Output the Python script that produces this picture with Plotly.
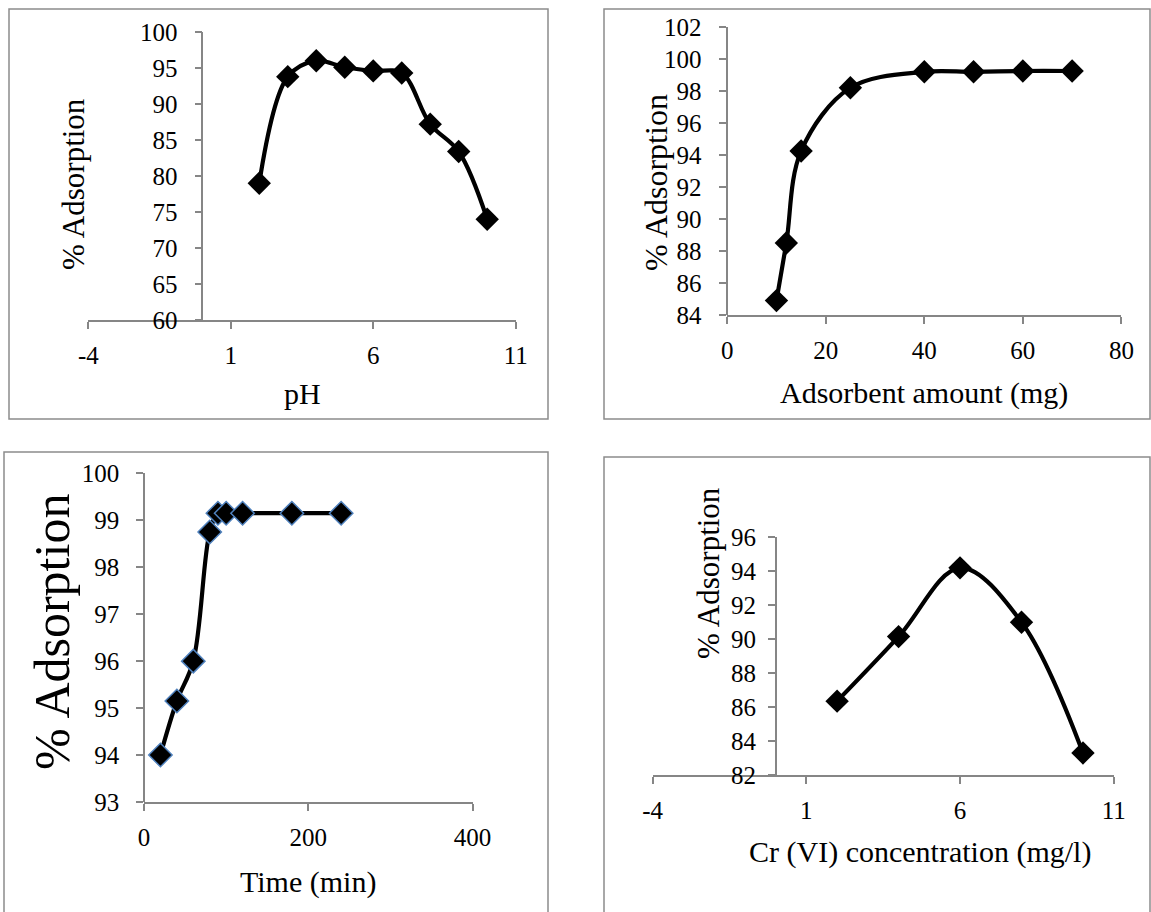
import plotly.graph_objects as go

W, H = 1151, 912

# ---------------- data ----------------
ph_x = [2, 3, 4, 5, 6, 7, 8, 9, 10]
ph_y = [79.0, 93.8, 96.0, 95.1, 94.6, 94.3, 87.2, 83.4, 74.0]

dose_x = [10, 12, 15, 25, 40, 50, 60, 70]
dose_y = [84.9, 88.5, 94.25, 98.2, 99.2, 99.2, 99.25, 99.25]

time_x = [20, 40, 60, 80, 90, 100, 120, 180, 240]
time_y = [94.0, 95.15, 96.0, 98.75, 99.15, 99.15, 99.15, 99.15, 99.15]

conc_x = [2, 4, 6, 8, 10]
conc_y = [86.35, 90.15, 94.2, 91.0, 83.3]

ph_xticks = [-4, 1, 6, 11]
ph_yticks = [60, 65, 70, 75, 80, 85, 90, 95, 100]
dose_xticks = [0, 20, 40, 60, 80]
dose_yticks = [84, 86, 88, 90, 92, 94, 96, 98, 100, 102]
time_xticks = [0, 200, 400]
time_yticks = [93, 94, 95, 96, 97, 98, 99, 100]
conc_xticks = [-4, 1, 6, 11]
conc_yticks = [82, 84, 86, 88, 90, 92, 94, 96]

titles_y = "% Adsorption"
title_ph = "pH"
title_dose = "Adsorbent amount (mg)"
title_time = "Time (min)"
title_conc = "Cr (VI) concentration (mg/l)"

# ---------------- helpers ----------------
def fx(px):
    return px / W

def fy(py):
    return 1 - py / H

FONT = "Liberation Serif, Times New Roman, serif"
AX = "#868686"

fig = go.Figure()

def add_panel(i, xs, ys, xr, yr, xpx, ypx, xt, yt, marker_line=None, ystand=12):
    sx = "" if i == 1 else str(i)
    xa = "x" + sx
    ya = "y" + sx
    mline = marker_line or dict(width=0)
    fig.add_trace(go.Scatter(
        x=xs, y=ys, xaxis=xa, yaxis=ya, mode="lines+markers",
        line=dict(color="black", width=4.2, shape="spline", smoothing=1.0),
        marker=dict(symbol="diamond", size=18, color="black", line=mline),
        showlegend=False, cliponaxis=False,
    ))
    x0px = xpx[0] + (0 - xr[0]) / (xr[1] - xr[0]) * (xpx[1] - xpx[0])
    xaxis = dict(
        domain=[fx(xpx[0]), fx(xpx[1])], range=xr, anchor=ya, automargin=False,
        showline=True, linecolor=AX, linewidth=1.5, showgrid=False,
        zeroline=False, ticks="outside", ticklen=7, tickcolor=AX, tickwidth=1.5,
        tickmode="array", tickvals=xt, ticktext=[str(v) for v in xt],
        tickfont=dict(family=FONT, size=25, color="black"),
        ticklabelstandoff=5,
    )
    yaxis = dict(
        domain=[fy(ypx[1]), fy(ypx[0])], range=yr, anchor="free",
        position=fx(x0px), automargin=False,
        showline=True, linecolor=AX, linewidth=1.5, showgrid=False,
        zeroline=False, ticks="outside", ticklen=7, tickcolor=AX, tickwidth=1.5,
        tickmode="array", tickvals=yt, ticktext=[str(v) for v in yt],
        tickfont=dict(family=FONT, size=25, color="black"),
        ticklabelstandoff=ystand,
    )
    fig.update_layout({"xaxis" + sx: xaxis, "yaxis" + sx: yaxis})

add_panel(1, ph_x, ph_y, [-4, 11], [60, 100], (88.3, 515.7), (32, 320),
          ph_xticks, ph_yticks)
add_panel(2, dose_x, dose_y, [0, 80], [84, 102], (727.2, 1121.4), (27, 315),
          dose_xticks, dose_yticks, ystand=13)
add_panel(3, time_x, time_y, [0, 400], [93, 100], (144, 472.6), (473.3, 802),
          time_xticks, time_yticks, marker_line=dict(color="#4f81bd", width=1.5))
add_panel(4, conc_x, conc_y, [-4, 11], [82, 96], (652.7, 1113.7), (537.3, 775),
          conc_xticks, conc_yticks, ystand=7)

# panel borders
BORDER = "#8c8c8c"
for (x0, y0, x1, y1) in [(9, 9, 548, 419), (604, 9, 1150, 419),
                         (4, 452, 548, 915), (604, 457, 1150, 915)]:
    fig.add_shape(type="rect", xref="paper", yref="paper",
                  x0=fx(x0), x1=fx(x1), y0=fy(y1), y1=fy(y0),
                  line=dict(color=BORDER, width=1.5), fillcolor="rgba(0,0,0,0)")

def ann(text, px, py, size, angle=0):
    fig.add_annotation(text=text, x=fx(px), y=fy(py), xref="paper", yref="paper",
                       showarrow=False, textangle=angle, xanchor="center",
                       yanchor="middle", font=dict(family=FONT, size=size, color="black"))

ann(titles_y, 74, 184, 31, -90)
ann(title_ph, 302, 393, 30)
ann(titles_y, 656, 183, 32, -90)
ann(title_dose, 924, 393, 30)
ann(titles_y, 52, 632, 50, -90)
ann(title_time, 308, 882, 30)
ann(titles_y, 708, 573, 31, -90)
ann(title_conc, 920, 852, 30)

fig.update_layout(width=W, height=H, autosize=False,
                  font=dict(family=FONT, size=25, color="black"),
                  margin=dict(l=0, r=0, t=0, b=0, pad=0, autoexpand=False),
                  paper_bgcolor="white", plot_bgcolor="rgba(0,0,0,0)")

fig.write_html("out.html")
